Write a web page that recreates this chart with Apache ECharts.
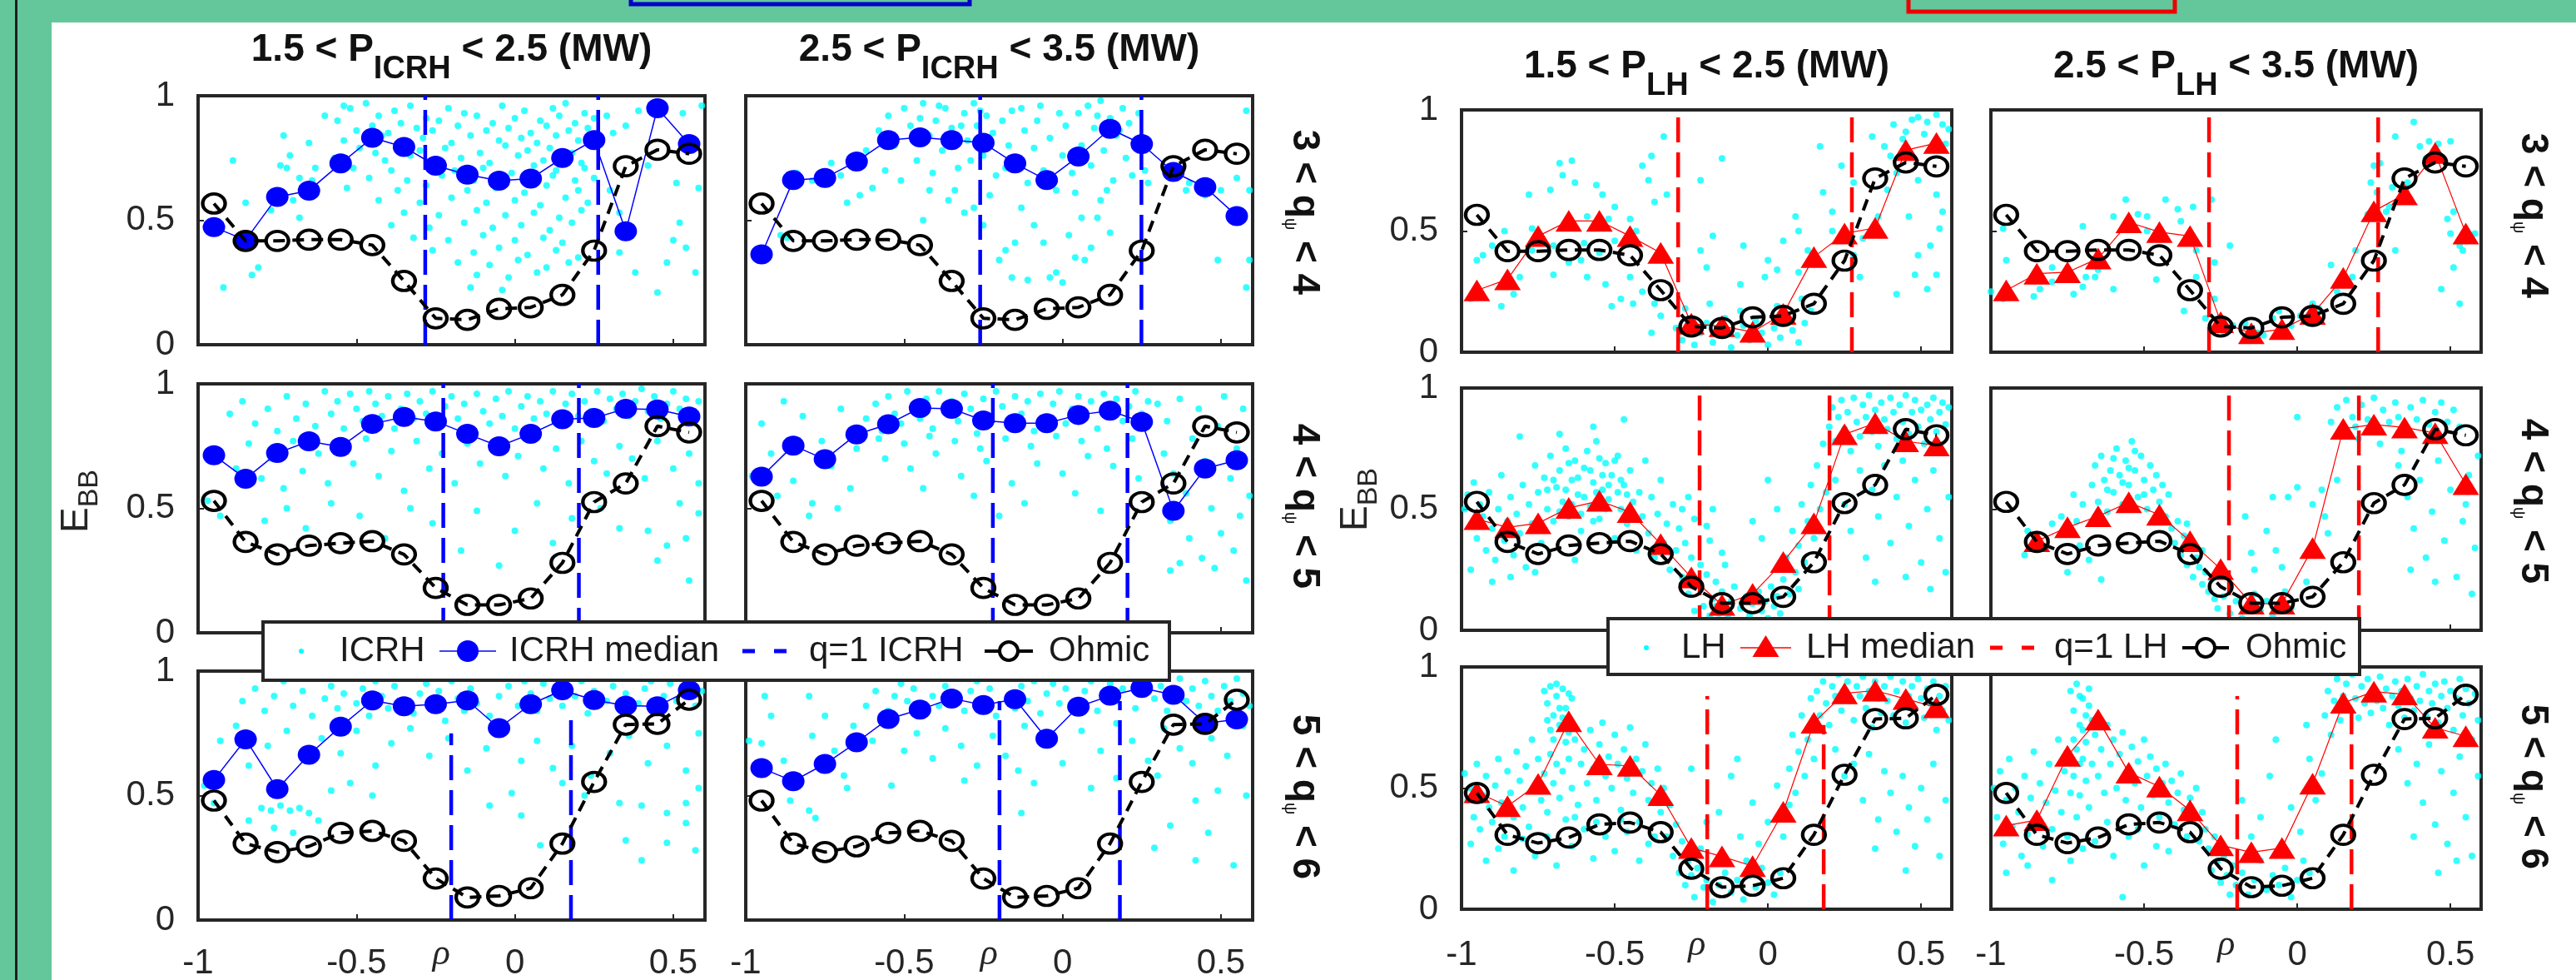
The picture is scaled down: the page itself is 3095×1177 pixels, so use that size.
<!DOCTYPE html>
<html>
<head>
<meta charset="utf-8">
<script src="https://cdn.jsdelivr.net/npm/echarts@6/dist/echarts.min.js"></script>
<style>
html,body{margin:0;padding:0;background:#63c79b;}
#chart{width:3095px;height:1177px;}
</style>
</head>
<body>
<div id="chart"></div>
<script>
// ---------------------------------------------------------------
// Radial bins (rho) shared by the medians and the Ohmic reference
// ---------------------------------------------------------------
const rhoBins = [-0.95,-0.85,-0.75,-0.65,-0.55,-0.45,-0.35,-0.25,-0.15,-0.05,0.05,0.15,0.25,0.35,0.45,0.55];
const xTicks = [-1, -0.5, 0, 0.5];
const xTickLabels = ['-1', '-0.5', '0', '0.5'];
const yTicks = [0, 0.5, 1];

// heating power bands (MW) and safety-factor bands
const powerBands = [['1.5', '2.5'], ['2.5', '3.5']];
const qBands = [['3', '4'], ['4', '5'], ['5', '6']];

// Ohmic reference profiles (same in every column of a row)
const ohmicQ34 = [0.567,0.417,0.417,0.422,0.422,0.40,0.256,0.106,0.10,0.144,0.15,0.20,0.378,0.717,0.783,0.767];
const ohmicQ45 = [0.53,0.365,0.315,0.35,0.36,0.368,0.315,0.18,0.112,0.112,0.138,0.281,0.525,0.60,0.83,0.805];
const ohmicQ56 = [0.48,0.307,0.273,0.296,0.35,0.358,0.318,0.167,0.091,0.097,0.128,0.307,0.555,0.785,0.788,0.885];

// ICRH medians
const icrhLoQ34Med = [0.472,0.42,0.594,0.619,0.728,0.831,0.794,0.719,0.683,0.659,0.667,0.75,0.822,0.456,0.95,0.806];
const icrhHiQ34Med = [0.363,0.661,0.67,0.736,0.822,0.833,0.822,0.811,0.728,0.661,0.756,0.867,0.806,0.694,0.633,0.517];
const icrhLoQ45Med = [0.713,0.619,0.722,0.769,0.747,0.839,0.867,0.849,0.799,0.749,0.799,0.858,0.863,0.90,0.897,0.869];
const icrhHiQ45Med = [0.627,0.752,0.697,0.797,0.838,0.903,0.90,0.853,0.842,0.842,0.875,0.892,0.847,0.49,0.66,0.693];
const icrhLoQ56Med = [0.563,0.726,0.526,0.664,0.777,0.882,0.859,0.867,0.882,0.771,0.867,0.923,0.884,0.861,0.859,0.923];
const icrhHiQ56Med = [0.61,0.558,0.627,0.714,0.808,0.845,0.89,0.864,0.887,0.728,0.857,0.901,0.932,0.905,0.79,0.806];

// LH medians
const lhLoQ34Med = [0.255,0.301,0.479,0.542,0.542,0.479,0.41,0.118,0.107,0.084,0.158,0.393,0.49,0.513,0.834,0.863];
const lhHiQ34Med = [0.255,0.324,0.33,0.387,0.536,0.496,0.479,0.124,0.078,0.095,0.158,0.307,0.582,0.651,0.822,0.49];
const lhLoQ45Med = [0.459,0.425,0.442,0.505,0.534,0.488,0.356,0.218,0.105,0.15,0.282,0.442,0.809,0.855,0.78,0.763];
const lhHiQ45Med = [null,0.368,0.425,0.471,0.528,0.477,0.368,0.253,0.11,0.11,0.339,0.832,0.849,0.837,0.814,0.603];
const lhLoQ56Med = [0.483,0.425,0.517,0.776,0.598,0.592,0.471,0.253,0.218,0.178,0.402,0.77,0.891,0.902,0.868,0.833];
const lhHiQ56Med = [0.345,0.368,0.633,0.783,0.564,0.506,0.408,0.264,0.235,0.253,0.518,0.852,0.898,0.887,0.749,0.714];

// q=1 radii (inboard, outboard) per q band
const icrhLoQ1 = [[-0.283,0.263],[-0.226,0.202],[-0.201,0.177]];
const icrhHiQ1 = [[-0.26,0.249],[-0.22,0.205],[-0.199,0.181]];
const lhLoQ1 = [[-0.293,0.274],[-0.223,0.201],[-0.198,0.182]];
const lhHiQ1 = [[-0.288,0.264],[-0.223,0.201],[-0.196,0.177]];
// upper end of each q=1 marker line
const icrhLoQ1Top = [[1,1],[1,1],[0.75,0.83]];
const icrhHiQ1Top = [[1,1],[1,1],[0.88,0.88]];
const lhLoQ1Top = [[1,1],[1,1],[0.88,0.76]];
const lhHiQ1Top = [[1,1],[1,1],[0.88,0.86]];

// individual ICRH shots
const icrhLoQ34Cloud = [[-0.89,0.74],[-0.92,0.23],[-0.85,0.57],[-0.83,0.28],[-0.81,0.31],[-0.73,0.84],[-0.72,0.71],[-0.65,0.81],[-0.68,0.67],[-0.71,0.76],[-0.77,0.54],[-0.74,0.72],[-0.63,0.71],[-0.7,0.58],[-0.68,0.51],[-0.64,0.66],[-0.6,0.92],[-0.54,0.96],
[-0.52,0.95],[-0.47,0.97],[-0.38,0.94],[-0.33,0.96],[-0.21,0.95],[-0.16,0.93],[-0.04,0.96],[0.03,0.94],[0.12,0.95],[0.16,0.97],[0.22,0.93],
[-0.56,0.9],[-0.43,0.92],[-0.36,0.89],[-0.28,0.91],[-0.24,0.9],[-0.12,0.92],[-0.07,0.89],[0.0,0.91],[0.08,0.9],[0.14,0.92],[0.19,0.89],[0.25,0.91],
[-0.5,0.86],[-0.45,0.88],[-0.4,0.85],[-0.31,0.87],[-0.26,0.86],[-0.18,0.88],[-0.09,0.86],[-0.02,0.87],[0.05,0.85],[0.1,0.88],[0.17,0.86],[0.23,0.87],
[-0.54,0.82],[-0.42,0.84],[-0.35,0.82],[-0.29,0.83],[-0.2,0.81],[-0.14,0.84],[-0.05,0.82],[0.02,0.83],[0.07,0.81],[0.13,0.84],[0.2,0.82],[0.26,0.83],
[-0.49,0.79],[-0.44,0.77],[-0.37,0.8],[-0.3,0.78],[-0.22,0.79],[-0.11,0.77],[-0.03,0.8],[0.04,0.78],[0.11,0.79],[0.18,0.77],[0.24,0.8],
[-0.57,0.75],[-0.41,0.74],[-0.33,0.76],[-0.25,0.74],[-0.17,0.75],[-0.08,0.73],[0.01,0.76],[0.09,0.74],[0.15,0.75],[0.21,0.73],
[-0.51,0.71],[-0.39,0.7],[-0.27,0.72],[-0.19,0.7],[-0.1,0.71],[-0.01,0.69],[0.06,0.72],[0.13,0.7],[0.22,0.71],
[-0.46,0.67],[-0.34,0.66],[-0.23,0.68],[-0.13,0.66],[-0.04,0.67],[0.05,0.65],[0.12,0.68],[0.19,0.66],[0.25,0.67],
[-0.53,0.63],[-0.37,0.62],[-0.28,0.64],[-0.15,0.62],[-0.06,0.63],[0.03,0.61],[0.1,0.64],[0.2,0.62],
[-0.43,0.58],[-0.3,0.57],[-0.2,0.59],[-0.09,0.57],[0.0,0.58],[0.08,0.56],[0.16,0.59],[0.23,0.57],
[-0.35,0.53],[-0.24,0.52],[-0.12,0.54],[-0.03,0.52],[0.06,0.53],[0.14,0.51],[0.21,0.54],
[-0.39,0.48],[-0.27,0.47],[-0.16,0.49],[-0.07,0.47],[0.02,0.48],[0.11,0.46],[0.18,0.49],
[-0.32,0.43],[-0.21,0.42],[-0.1,0.44],[0.0,0.42],[0.09,0.43],[0.15,0.41],
[-0.26,0.38],[-0.13,0.37],[-0.05,0.39],[0.04,0.36],[0.13,0.38],[0.2,0.35],
[-0.18,0.33],[-0.08,0.32],[0.01,0.34],[0.1,0.31],[0.17,0.33],[-0.12,0.28],[-0.02,0.27],[0.07,0.29],[-0.14,0.23],[-0.04,0.22],
[0.39,0.94],[0.45,0.21],[0.48,0.33],[0.5,0.42],[0.51,0.65],[0.54,0.39],[0.57,0.29],[0.58,0.63],[0.53,0.93],[0.56,0.82],[0.33,0.37],[0.38,0.29],[0.33,0.53],[0.3,0.62],[0.52,0.49],[0.35,0.88],[0.42,0.72],[0.59,0.96],[0.29,0.92],[0.31,0.85]];

const icrhHiQ34Cloud = [[-0.87,0.43],[-0.89,0.44],[-0.84,0.69],[-0.79,0.66],[-0.68,0.57],[-0.64,0.6],[-0.6,0.63],[-0.73,0.73],[-0.66,0.72],[-0.62,0.78],[-0.7,0.68],
[0.58,0.94],[0.49,0.34],[0.59,0.34],[0.58,0.23],[0.5,0.62],[0.39,0.62],[0.4,0.65],[0.59,0.62],[0.27,0.65],[0.45,0.6],[0.55,0.67],
[-0.44,0.5],[-0.31,0.53],[-0.2,0.34],[-0.18,0.38],[-0.15,0.41],[-0.11,0.26],[-0.06,0.41],[-0.04,0.27],[-0.02,0.29],[0.04,0.35],[0.06,0.51],[0.11,0.51],[0.12,0.58],[0.07,0.34],[0.0,0.25],[-0.16,0.27],[-0.25,0.48],[-0.28,0.55],[-0.09,0.48],[0.15,0.45],[-0.36,0.58],[-0.42,0.62],[0.02,0.44],[-0.13,0.55],[0.09,0.39],
[-0.58,0.86],[-0.55,0.92],[-0.53,0.8],[-0.5,0.95],[-0.48,0.88],[-0.46,0.74],[-0.44,0.97],[-0.42,0.84],[-0.4,0.9],[-0.38,0.78],[-0.37,0.95],[-0.35,0.87],[-0.33,0.71],[-0.31,0.93],[-0.3,0.82],[-0.28,0.97],[-0.27,0.88],[-0.25,0.76],[-0.24,0.92],[-0.22,0.85],[-0.21,0.68],[-0.19,0.9],[-0.17,0.8],[-0.16,0.94],[-0.14,0.73],[-0.12,0.86],[-0.11,0.65],[-0.09,0.79],[-0.08,0.9],[-0.06,0.7],[-0.04,0.83],[-0.02,0.62],[0.0,0.76],[0.01,0.88],[0.03,0.69],[0.05,0.93],[0.06,0.8],[0.08,0.96],[0.09,0.72],[0.1,0.87],[0.12,0.98],[0.13,0.78],[0.15,0.91],[0.16,0.66],[0.17,0.84],[0.19,0.95],[0.2,0.75],[0.21,0.89],[0.23,0.81],[0.24,0.93],[0.26,0.7],
[-0.56,0.7],[-0.51,0.66],[-0.47,0.82],[-0.41,0.69],[-0.34,0.62],[-0.29,0.74],[-0.23,0.6],[-0.18,0.71],[-0.13,0.95],[-0.07,0.96],[-0.01,0.93],[0.04,0.61],[0.14,0.62],[0.22,0.68],[-0.45,0.91],[-0.39,0.96],[-0.32,0.88],[-0.26,0.94],[0.11,0.92],[0.18,0.86]];

const icrhLoQ45Cloud = [[-0.9,0.88],[-0.86,0.93],[-0.82,0.84],[-0.78,0.9],[-0.75,0.81],[-0.72,0.95],[-0.69,0.86],[-0.66,0.92],[-0.63,0.83],[-0.6,0.97],[-0.58,0.88],[-0.56,0.93],[-0.54,0.82],[-0.52,0.96],[-0.5,0.9],[-0.48,0.85],[-0.46,0.97],[-0.44,0.92],[-0.42,0.87],[-0.4,0.95],[-0.38,0.82],[-0.36,0.9],[-0.34,0.96],[-0.32,0.86],[-0.3,0.93],[-0.28,0.88],[-0.26,0.97],[-0.24,0.83],[-0.22,0.91],[-0.2,0.95],[-0.18,0.86],[-0.16,0.92],[-0.14,0.81],[-0.12,0.96],[-0.1,0.89],[-0.08,0.84],[-0.06,0.94],[-0.04,0.87],[-0.02,0.97],[0.0,0.82],[0.02,0.91],[0.04,0.95],[0.06,0.86],[0.08,0.93],[0.1,0.88],[0.12,0.97],[0.14,0.84],[0.16,0.92],[0.18,0.96],[0.2,0.87],[0.22,0.93],[0.24,0.89],[0.26,0.97],[0.28,0.85],[0.3,0.94],[0.32,0.9],[0.34,0.96],[0.36,0.87],[0.38,0.93],[0.4,0.98],[0.42,0.89],[0.44,0.95],[0.46,0.86],[0.48,0.92],[0.5,0.97],[0.52,0.9],[0.54,0.94],[0.56,0.87],[0.58,0.93],
[-0.95,0.72],[-0.88,0.66],[-0.84,0.76],[-0.8,0.62],[-0.77,0.7],[-0.73,0.58],[-0.7,0.77],[-0.67,0.65],[-0.62,0.72],[-0.59,0.6],[-0.55,0.75],[-0.51,0.68],[-0.47,0.78],[-0.43,0.63],[-0.39,0.73],[-0.35,0.57],[-0.31,0.77],[-0.27,0.66],[-0.23,0.72],[-0.19,0.6],[-0.15,0.76],[-0.11,0.68],[-0.07,0.74],[-0.03,0.63],[0.01,0.71],[0.05,0.78],[0.09,0.66],[0.13,0.74],[0.17,0.6],[0.21,0.77],[0.25,0.69],[0.29,0.64],[0.33,0.75],[0.37,0.7],[0.41,0.62],[0.45,0.77],[0.5,0.66],[0.55,0.72],[0.58,0.6],
[-0.97,0.53],[-0.93,0.47],[-0.79,0.45],[-0.72,0.5],[-0.66,0.42],[-0.58,0.52],[-0.49,0.47],[-0.41,0.38],[-0.33,0.5],[-0.26,0.44],[-0.17,0.33],[-0.12,0.49],[-0.05,0.27],[0.0,0.41],[0.07,0.52],[0.12,0.36],[0.18,0.46],[0.27,0.5],[0.33,0.42],[0.42,0.41],[0.45,0.29],[0.48,0.35],[0.54,0.38],[0.55,0.21],[0.58,0.48],[0.52,0.52]];

const icrhHiQ45Cloud = [[-0.62,0.86],[-0.59,0.92],[-0.57,0.81],[-0.55,0.95],[-0.53,0.88],[-0.51,0.84],[-0.49,0.97],[-0.47,0.9],[-0.45,0.86],[-0.43,0.94],[-0.41,0.82],[-0.39,0.97],[-0.37,0.89],[-0.35,0.93],[-0.33,0.85],[-0.31,0.96],[-0.29,0.9],[-0.27,0.8],[-0.25,0.94],[-0.23,0.87],[-0.21,0.97],[-0.19,0.91],[-0.17,0.83],[-0.15,0.95],[-0.13,0.88],[-0.11,0.93],[-0.09,0.81],[-0.07,0.96],[-0.05,0.86],[-0.03,0.92],[-0.01,0.97],[0.01,0.84],[0.03,0.9],[0.05,0.95],[0.07,0.87],[0.09,0.93],[0.11,0.82],[0.13,0.96],[0.15,0.89],[0.17,0.94],[0.19,0.85],[0.21,0.91],[0.23,0.97],[0.25,0.88],[0.27,0.93],
[-0.58,0.78],[-0.5,0.76],[-0.42,0.79],[-0.34,0.77],[-0.26,0.74],[-0.18,0.78],[-0.1,0.75],[-0.02,0.79],[0.06,0.77],[0.14,0.74],[0.22,0.78],
[-0.56,0.7],[-0.48,0.66],[-0.4,0.72],[-0.32,0.63],[-0.24,0.69],[-0.16,0.6],[-0.08,0.68],[0.0,0.64],[0.08,0.71],[0.16,0.67],[0.24,0.62],[-0.44,0.58],[-0.28,0.55],[-0.12,0.52],[0.04,0.56],[0.12,0.49],[-0.2,0.47],
[-0.95,0.84],[-0.92,0.72],[-0.88,0.93],[-0.85,0.61],[-0.82,0.87],[-0.79,0.52],[-0.76,0.77],[-0.73,0.67],[-0.7,0.9],[-0.67,0.58],[-0.65,0.74],[-0.9,0.55],[-0.8,0.47],[-0.71,0.5],[-0.98,0.63],
[0.3,0.92],[0.33,0.85],[0.35,0.64],[0.37,0.94],[0.39,0.56],[0.41,0.78],[0.43,0.9],[0.45,0.69],[0.47,0.5],[0.49,0.83],[0.51,0.95],[0.53,0.62],[0.55,0.74],[0.57,0.9],[0.59,0.55],[0.34,0.45],[0.44,0.3],[0.5,0.4],[0.56,0.47],[0.58,0.21],[0.4,0.38],[0.32,0.72],[0.48,0.26],[0.54,0.33],[0.34,0.25],[0.37,0.28]];

const icrhLoQ56Cloud = [[-0.86,0.88],[-0.82,0.93],[-0.79,0.84],[-0.76,0.9],[-0.73,0.96],[-0.7,0.86],[-0.67,0.92],[-0.64,0.82],[-0.62,0.97],[-0.6,0.89],[-0.58,0.94],[-0.56,0.85],[-0.54,0.91],[-0.52,0.97],[-0.5,0.87],[-0.48,0.93],[-0.46,0.82],[-0.44,0.96],[-0.42,0.9],[-0.4,0.85],[-0.38,0.94],[-0.36,0.88],[-0.34,0.97],[-0.32,0.83],[-0.3,0.91],[-0.28,0.95],[-0.26,0.86],[-0.24,0.92],[-0.22,0.8],[-0.2,0.96],[-0.18,0.89],[-0.16,0.84],[-0.14,0.93],[-0.12,0.87],[-0.1,0.97],[-0.08,0.82],[-0.05,0.9],[-0.02,0.94],[0.01,0.86],[0.03,0.96],[0.05,0.91],[0.07,0.84],[0.09,0.95],[0.11,0.89],[0.13,0.97],[0.15,0.86],[0.17,0.93],[0.19,0.9],[0.21,0.96],[0.23,0.83],[0.25,0.92],[0.27,0.97],[0.29,0.88],[0.31,0.94],[0.33,0.85],[0.35,0.91],[0.37,0.97],[0.39,0.87],[0.41,0.93],[0.43,0.96],[0.45,0.84],[0.47,0.9],[0.49,0.95],[0.51,0.88],[0.53,0.93],[0.55,0.97],[0.57,0.86],[0.59,0.92],
[-0.93,0.72],[-0.88,0.78],[-0.84,0.62],[-0.78,0.7],[-0.72,0.76],[-0.66,0.64],[-0.61,0.73],[-0.55,0.67],[-0.5,0.76],[-0.44,0.62],[-0.39,0.71],[-0.33,0.77],[-0.27,0.66],[-0.21,0.73],[-0.15,0.6],[-0.09,0.69],[-0.04,0.76],[0.02,0.64],[0.07,0.72],[0.12,0.61],[0.18,0.7],[0.24,0.58],[0.3,0.67],[0.36,0.74],[0.42,0.63],[0.48,0.7],[0.54,0.6],[0.58,0.75],
[-0.98,0.54],[-0.95,0.47],[-0.8,0.45],[-0.77,0.44],[-0.74,0.46],[-0.71,0.44],[-0.68,0.45],[-0.65,0.43],[-0.76,0.37],[-0.7,0.35],[-0.62,0.4],[-0.84,0.4],[-0.58,0.52],[-0.52,0.55],[-0.45,0.5],[-0.08,0.46],[-0.01,0.51],[0.02,0.42],[0.08,0.3],[0.33,0.47],[0.4,0.46],[0.48,0.43],[0.54,0.47],[0.54,0.39],[0.35,0.32],[0.48,0.31],[0.57,0.28],[0.4,0.24],[0.15,0.55],[0.22,0.5],[0.58,0.53]];

const icrhHiQ56Cloud = [[-0.62,0.86],[-0.59,0.92],[-0.57,0.97],[-0.55,0.84],[-0.53,0.9],[-0.51,0.95],[-0.49,0.88],[-0.47,0.93],[-0.45,0.83],[-0.43,0.97],[-0.41,0.9],[-0.39,0.86],[-0.37,0.94],[-0.35,0.89],[-0.33,0.97],[-0.31,0.84],[-0.29,0.92],[-0.27,0.96],[-0.25,0.87],[-0.23,0.93],[-0.21,0.82],[-0.19,0.97],[-0.17,0.9],[-0.15,0.85],[-0.13,0.94],[-0.11,0.88],[-0.09,0.96],[-0.07,0.83],[-0.05,0.91],[-0.03,0.95],[-0.01,0.87],[0.01,0.93],[0.03,0.98],[0.05,0.86],[0.07,0.92],[0.09,0.96],[0.11,0.84],[0.13,0.9],[0.15,0.95],[0.17,0.88],[0.19,0.93],[0.21,0.97],[0.23,0.85],[0.25,0.91],[0.27,0.96],[0.29,0.89],[0.31,0.94],[0.33,0.84],[0.35,0.92],[0.37,0.97],[0.39,0.88],[0.41,0.93],[0.43,0.86],[0.45,0.96],[0.47,0.9],[0.49,0.84],[0.51,0.94],[0.53,0.88],[0.55,0.97],[0.57,0.91],[0.59,0.86],
[-0.66,0.78],[-0.6,0.72],[-0.55,0.79],[-0.5,0.68],[-0.46,0.75],[-0.41,0.65],[-0.37,0.77],[-0.32,0.7],[-0.27,0.62],[-0.22,0.74],[-0.18,0.66],[-0.12,0.78],[-0.06,0.71],[0.0,0.63],[0.06,0.76],[0.12,0.68],[0.17,0.79],[0.22,0.72],[0.27,0.64],[0.32,0.77],[0.37,0.69],[0.42,0.79],[0.47,0.73],[0.52,0.66],[0.57,0.78],
[-0.94,0.9],[-0.95,0.71],[-0.99,0.72],[-0.88,0.64],[-0.8,0.9],[-0.79,0.74],[-0.8,0.44],[-0.78,0.41],[-0.75,0.82],[-0.86,0.48],[-0.69,0.58],[-0.68,0.53],[-0.54,0.54],[-0.31,0.56],[-0.13,0.43],[-0.09,0.55],[-0.14,0.6],[0.09,0.53],[0.17,0.57],[0.29,0.29],[0.34,0.38],[0.42,0.24],[0.46,0.35],[0.54,0.22],[0.42,0.48],[0.49,0.52],[0.58,0.5],[0.41,0.63],[0.3,0.58],[-0.92,0.82],[-0.72,0.68]];

// individual LH shots
const lhLoQ34Cloud = [[-0.97,0.22],[-0.95,0.38],[-0.87,0.19],[-0.86,0.5],[-0.83,0.24],[-0.78,0.65],[-0.77,0.51],[-0.81,0.31],[-0.71,0.67],[-0.7,0.32],[-0.68,0.78],[-0.67,0.73],[-0.64,0.79],[-0.63,0.7],[-0.61,0.38],[-0.56,0.69],[-0.59,0.31],[-0.54,0.65],[-0.52,0.55],[-0.5,0.6],[-0.59,0.56],[-0.45,0.55],[-0.43,0.5],[-0.41,0.77],[-0.39,0.71],[-0.38,0.81],[-0.37,0.62],[-0.34,0.89],[-0.33,0.65],[-0.45,0.31],[-0.41,0.25],[-0.48,0.22],[-0.51,0.19],[-0.53,0.28],[-0.38,0.08],[-0.44,0.2],
[-0.77,0.42],[-0.7,0.44],[-0.65,0.37],[-0.74,0.47],[-0.6,0.45],[-0.55,0.41],[-0.5,0.46],[-0.9,0.44],[-0.93,0.4],
[-0.22,0.71],[-0.15,0.8],[-0.22,0.42],[-0.2,0.35],[-0.18,0.48],[-0.08,0.44],[0.0,0.38],[0.05,0.46],[0.09,0.56],[0.1,0.5],[-0.09,0.28],[-0.01,0.31],[0.03,0.34],[0.1,0.33],[0.13,0.42],[0.17,0.85],[0.18,0.66],[0.21,0.58],[0.21,0.5],
[0.24,0.77],[0.28,0.7],[0.34,0.89],[0.38,0.85],[0.41,0.94],[0.45,0.91],[0.49,0.97],[0.52,0.95],[0.55,0.98],[0.57,0.94],[0.58,0.86],[0.46,0.81],[0.42,0.74],[0.39,0.67],[0.49,0.71],[0.55,0.65],[0.57,0.58],[0.56,0.51],[0.53,0.44],[0.49,0.4],[0.55,0.32],[0.52,0.26],[0.42,0.24],[0.48,0.32],[0.46,0.56],[0.36,0.56],[0.31,0.47],[0.28,0.4],[0.3,0.31],[0.44,0.88],[0.51,0.9],[0.59,0.92],[0.47,0.96],[0.53,0.84],[0.4,0.81],
[-0.3,0.1],[-0.28,0.05],[-0.26,0.13],[-0.24,0.03],[-0.22,0.08],[-0.2,0.12],[-0.18,0.04],[-0.16,0.09],[-0.14,0.14],[-0.12,0.02],[-0.1,0.07],[-0.08,0.11],[-0.06,0.05],[-0.04,0.13],[-0.02,0.08],[0.0,0.03],[0.02,0.1],[0.04,0.06],[0.06,0.14],[0.08,0.09],[0.1,0.04],[0.12,0.12],[-0.35,0.15],[-0.27,0.18],[-0.19,0.2],[-0.09,0.17],[0.03,0.19],[0.11,0.22],[0.14,0.17],[-0.37,0.2]];

const lhHiQ34Cloud = [[-1.0,0.25],[-0.96,0.51],[-0.95,0.38],[-0.96,0.22],[-0.86,0.23],[-0.84,0.26],[-0.8,0.35],[-0.8,0.29],[-0.73,0.24],[-0.7,0.52],[-0.7,0.27],[-0.69,0.31],[-0.66,0.31],[-0.65,0.34],[-0.6,0.26],[-0.6,0.56],[-0.56,0.63],[-0.55,0.54],[-0.52,0.57],[-0.49,0.56],[-0.49,0.5],[-0.46,0.3],[-0.43,0.63],[-0.39,0.59],[-0.38,0.54],[-0.34,0.6],[-0.33,0.42],[-0.33,0.31],[-0.37,0.17],[-0.27,0.22],[-0.27,0.37],[-0.28,0.63],[-0.22,0.44],[-0.26,0.09],[-0.24,0.08],[-0.21,0.11],[-0.13,0.08],[-0.11,0.07],[-0.08,0.14],[-0.06,0.17],[-0.02,0.11],[0.01,0.15],[0.05,0.2],[0.07,0.18],[0.11,0.36],[0.13,0.25],[0.18,0.31],[0.19,0.42],[0.23,0.57],[0.24,0.7],[0.25,0.77],[0.26,0.66],[0.27,0.78],[0.31,0.68],[0.32,0.89],[0.32,0.42],[0.38,0.95],[0.4,0.85],[0.43,0.87],[0.46,0.86],[0.5,0.87],[0.51,0.58],[0.47,0.26],[0.53,0.2],[0.51,0.35],[0.53,0.44],[0.54,0.42],[0.5,0.49],[0.58,0.49],[0.49,0.55],[0.29,0.58],[0.3,0.6],[-0.17,0.12],[-0.3,0.14],[0.42,0.8],[0.36,0.7]];

const lhLoQ45Cloud = [[-0.99,0.5],[-0.98,0.56],[-0.97,0.43],[-0.96,0.61],[-0.95,0.38],[-0.94,0.52],[-0.93,0.47],[-0.92,0.33],[-0.91,0.57],[-0.9,0.42],[-0.89,0.29],[-0.88,0.5],[-0.87,0.64],[-0.86,0.37],[-0.85,0.45],[-0.84,0.55],[-0.83,0.31],[-0.82,0.48],[-0.81,0.4],[-0.8,0.6],[-0.79,0.26],[-0.78,0.52],[-0.77,0.44],[-0.76,0.68],[-0.75,0.57],[-0.74,0.36],[-0.73,0.63],[-0.72,0.5],[-0.71,0.72],[-0.7,0.45],[-0.69,0.59],[-0.68,0.66],[-0.67,0.53],[-0.66,0.75],[-0.65,0.47],[-0.64,0.62],[-0.63,0.7],[-0.62,0.56],[-0.61,0.41],[-0.6,0.67],[-0.59,0.74],[-0.58,0.51],[-0.57,0.61],[-0.56,0.78],[-0.55,0.46],[-0.54,0.58],[-0.53,0.69],[-0.52,0.54],[-0.51,0.64],[-0.5,0.38],[-0.49,0.72],[-0.48,0.5],[-0.47,0.6],[-0.46,0.44],[-0.45,0.66],[-0.44,0.53],[-0.43,0.33],[-0.42,0.57],[-0.41,0.47],[-0.4,0.7],[-0.39,0.4],[-0.38,0.55],[-0.37,0.3],[-0.36,0.48],[-0.35,0.62],[-0.34,0.36],[-0.33,0.44],[-0.32,0.25],[-0.31,0.52],[-0.3,0.33],
[-0.68,0.49],[-0.66,0.58],[-0.64,0.52],[-0.62,0.63],[-0.6,0.55],[-0.58,0.66],[-0.56,0.57],[-0.54,0.64],[-0.52,0.6],[-0.5,0.7],[-0.48,0.62],[-0.46,0.56],[-0.7,0.62],[-0.72,0.58],[-0.65,0.69],[-0.55,0.71],[-0.53,0.5],[-0.61,0.48],[-0.57,0.45],[-0.49,0.57],
[-0.97,0.25],[-0.9,0.2],[-0.84,0.22],[-0.81,0.8],[-0.76,0.24],[-0.68,0.81],[-0.57,0.84],[-0.47,0.87],[-0.63,0.29],
[-0.29,0.42],[-0.28,0.22],[-0.27,0.36],[-0.26,0.15],[-0.25,0.3],[-0.24,0.46],[-0.23,0.19],[-0.22,0.27],[-0.21,0.1],[-0.2,0.23],[-0.19,0.37],[-0.18,0.13],[-0.17,0.2],[-0.16,0.07],[-0.15,0.16],[-0.14,0.27],[-0.13,0.05],[-0.12,0.12],[-0.11,0.18],[-0.1,0.03],[-0.28,0.5],[-0.26,0.55],[-0.2,0.43],[-0.18,0.5],[-0.15,0.32],
[-0.09,0.09],[-0.08,0.02],[-0.07,0.14],[-0.06,0.06],[-0.05,0.11],[-0.04,0.03],[-0.03,0.16],[-0.02,0.08],[-0.01,0.12],[0.0,0.05],[0.01,0.18],[0.02,0.1],[0.03,0.14],[0.04,0.07],[0.05,0.21],[-0.19,0.06],[-0.17,0.1],[-0.14,0.02],[-0.24,0.08],[-0.22,0.04],
[0.06,0.3],[0.07,0.15],[0.08,0.41],[0.09,0.24],[0.1,0.35],[0.11,0.52],[0.12,0.28],[0.13,0.45],[0.14,0.6],[0.15,0.38],[0.16,0.68],[0.17,0.5],[0.18,0.77],[0.19,0.57],[0.2,0.84],[-0.02,0.38],[0.03,0.5],[0.0,0.62],[-0.05,0.45],[0.1,0.17],
[0.21,0.92],[0.22,0.78],[0.23,0.88],[0.24,0.95],[0.25,0.83],[0.26,0.9],[0.27,0.74],[0.28,0.96],[0.29,0.86],[0.3,0.8],[0.31,0.93],[0.32,0.88],[0.33,0.97],[0.34,0.82],[0.35,0.91],[0.36,0.76],[0.37,0.94],[0.38,0.87],[0.39,0.83],[0.4,0.96],[0.41,0.9],[0.42,0.79],[0.43,0.93],[0.44,0.86],[0.45,0.97],[0.46,0.81],[0.47,0.9],[0.48,0.95],[0.49,0.84],[0.5,0.91],[0.51,0.77],[0.52,0.93],[0.53,0.87],[0.54,0.96],[0.55,0.82],[0.56,0.9],[0.57,0.94],[0.58,0.85],[0.59,0.92],
[0.22,0.62],[0.25,0.52],[0.27,0.41],[0.3,0.66],[0.32,0.3],[0.34,0.58],[0.36,0.47],[0.38,0.68],[0.4,0.36],[0.42,0.55],[0.44,0.7],[0.46,0.43],[0.48,0.62],[0.5,0.28],[0.52,0.5],[0.54,0.66],[0.56,0.38],[0.58,0.24],[0.59,0.55],[0.53,0.17],[0.45,0.22],[0.35,0.2]];

const lhHiQ45Cloud = [[-0.88,0.41],[-0.89,0.31],[-0.77,0.47],[-0.75,0.24],[-0.64,0.21],[-0.73,0.56],[-0.84,0.37],[-0.8,0.44],[-0.71,0.35],[-0.68,0.29],
[-0.67,0.6],[-0.66,0.68],[-0.65,0.53],[-0.64,0.72],[-0.63,0.62],[-0.62,0.49],[-0.61,0.66],[-0.6,0.57],[-0.59,0.75],[-0.58,0.64],[-0.57,0.52],[-0.56,0.7],[-0.55,0.6],[-0.54,0.78],[-0.53,0.66],[-0.52,0.55],[-0.51,0.72],[-0.5,0.62],[-0.49,0.5],[-0.48,0.68],[-0.47,0.58],[-0.46,0.64],[-0.45,0.53],[-0.44,0.6],[-0.43,0.47],[-0.42,0.56],[-0.6,0.71],[-0.55,0.67],[-0.5,0.56],[-0.57,0.61],[-0.62,0.58],[-0.53,0.74],[-0.7,0.52],[-0.72,0.45],
[-0.41,0.42],[-0.4,0.36],[-0.39,0.45],[-0.38,0.31],[-0.37,0.39],[-0.36,0.27],[-0.35,0.35],[-0.34,0.22],[-0.33,0.3],[-0.32,0.26],[-0.31,0.19],[-0.3,0.24],[-0.29,0.16],[-0.28,0.21],[-0.27,0.13],[-0.36,0.44],[-0.31,0.33],
[-0.26,0.09],[-0.24,0.14],[-0.22,0.07],[-0.2,0.12],[-0.18,0.05],[-0.16,0.1],[-0.14,0.15],[-0.12,0.08],[-0.1,0.12],[-0.08,0.06],[-0.06,0.1],[-0.04,0.16],[-0.02,0.09],
[-0.17,0.47],[-0.15,0.32],[-0.14,0.25],[-0.1,0.41],[-0.07,0.33],[-0.05,0.26],[0.0,0.88],[0.0,0.59],[-0.03,0.55],[0.05,0.52],[0.09,0.47],[0.1,0.4],[0.03,0.2],[-0.08,0.55],
[0.11,0.86],[0.13,0.92],[0.14,0.83],[0.16,0.95],[0.18,0.88],[0.19,0.84],[0.21,0.93],[0.23,0.87],[0.25,0.96],[0.26,0.84],[0.28,0.91],[0.3,0.86],[0.32,0.94],[0.33,0.88],[0.35,0.83],[0.37,0.92],[0.39,0.87],[0.41,0.95],[0.43,0.85],[0.45,0.9],[0.47,0.94],[0.49,0.86],[0.51,0.91],[0.53,0.84],[0.2,0.79],[0.27,0.77],[0.34,0.74],
[0.33,0.68],[0.36,0.55],[0.38,0.42],[0.4,0.62],[0.42,0.3],[0.44,0.49],[0.46,0.7],[0.48,0.37],[0.5,0.58],[0.52,0.22],[0.54,0.45],[0.56,0.64],[0.57,0.15],[0.58,0.34],[0.37,0.25],[0.45,0.2],[0.55,0.52],[0.59,0.72],[0.13,0.62],[0.08,0.58]];

const lhLoQ56Cloud = [[-0.73,0.9],[-0.72,0.85],[-0.71,0.92],[-0.7,0.8],[-0.69,0.88],[-0.68,0.76],[-0.67,0.91],[-0.66,0.83],[-0.65,0.73],[-0.64,0.87],[-0.72,0.78],[-0.7,0.7],[-0.68,0.83],[-0.66,0.69],[-0.65,0.89],[-0.71,0.74],[-0.69,0.93],[-0.67,0.79],
[-0.99,0.56],[-0.98,0.45],[-0.97,0.5],[-0.96,0.38],[-0.95,0.6],[-0.94,0.33],[-0.93,0.47],[-0.92,0.55],[-0.91,0.42],[-0.9,0.36],[-0.89,0.51],[-0.88,0.62],[-0.87,0.44],[-0.86,0.3],[-0.85,0.57],[-0.84,0.48],[-0.83,0.38],[-0.82,0.65],[-0.81,0.53],[-0.8,0.42],[-0.79,0.59],[-0.78,0.34],[-0.77,0.7],[-0.76,0.5],[-0.75,0.62],[-0.74,0.45],[-0.73,0.56],[-0.72,0.4],[-0.71,0.64],[-0.7,0.52],[-0.69,0.6],[-0.68,0.46],[-0.67,0.57],[-0.66,0.37],[-0.65,0.62],[-0.64,0.5],[-0.63,0.7],[-0.62,0.43],[-0.61,0.6],[-0.6,0.66],[-0.59,0.52],[-0.58,0.74],[-0.57,0.58],[-0.56,0.45],[-0.55,0.68],[-0.54,0.77],[-0.53,0.55],[-0.52,0.63],[-0.51,0.5],[-0.5,0.72],[-0.49,0.6],[-0.48,0.41],[-0.47,0.66],[-0.46,0.54],[-0.45,0.75],[-0.44,0.48],[-0.43,0.62],[-0.42,0.36],[-0.41,0.57],[-0.4,0.68],[-0.39,0.45],[-0.38,0.52],[-0.37,0.3],[-0.36,0.58],[-0.35,0.4],
[-0.97,0.27],[-0.92,0.2],[-0.88,0.25],[-0.83,0.16],[-0.8,0.29],[-0.76,0.22],[-0.72,0.3],[-0.69,0.18],[-0.64,0.26],[-0.6,0.33],[-0.57,0.21],[-0.53,0.3],[-0.5,0.24],[-0.46,0.32],[-0.42,0.2],[-0.39,0.27],[-0.56,0.36],[-0.48,0.37],[-0.63,0.38],
[-0.34,0.5],[-0.33,0.3],[-0.32,0.43],[-0.31,0.22],[-0.3,0.35],[-0.29,0.15],[-0.28,0.28],[-0.27,0.1],[-0.26,0.2],[-0.25,0.14],[-0.24,0.05],[-0.23,0.17],[-0.22,0.25],[-0.21,0.09],
[-0.2,0.12],[-0.18,0.03],[-0.16,0.1],[-0.14,0.15],[-0.12,0.07],[-0.1,0.12],[-0.08,0.04],[-0.06,0.14],[-0.04,0.09],[-0.02,0.17],[0.0,0.11],[0.02,0.06],[0.04,0.15],[-0.15,0.22],[-0.07,0.2],
[-0.2,0.36],[-0.16,0.4],[-0.12,0.55],[-0.09,0.3],[-0.05,0.44],[-0.03,0.27],[0.0,0.36],[0.03,0.51],[0.05,0.3],[0.07,0.43],[-0.1,0.62],[-0.25,0.58],
[0.07,0.58],[0.08,0.72],[0.09,0.48],[0.1,0.65],[0.11,0.8],[0.12,0.55],[0.13,0.7],[0.14,0.87],[0.15,0.62],
[0.16,0.9],[0.17,0.8],[0.18,0.94],[0.19,0.85],[0.2,0.76],[0.21,0.92],[0.22,0.88],[0.23,0.97],[0.24,0.82],[0.25,0.9],[0.26,0.94],[0.27,0.86],[0.28,0.78],[0.29,0.92],[0.3,0.88],[0.31,0.96],[0.32,0.83],[0.33,0.9],[0.34,0.75],[0.35,0.94],[0.36,0.87],[0.37,0.81],[0.38,0.92],[0.39,0.86],[0.4,0.96],[0.41,0.8],[0.42,0.9],[0.43,0.84],[0.44,0.94],[0.45,0.77],[0.46,0.88],[0.47,0.92],[0.48,0.83],[0.49,0.95],[0.5,0.87],[0.51,0.79],[0.52,0.91],[0.53,0.85],[0.54,0.94],[0.55,0.74],[0.56,0.88],[0.57,0.82],[0.58,0.92],[0.59,0.78],
[0.22,0.66],[0.25,0.55],[0.28,0.6],[0.31,0.45],[0.33,0.64],[0.36,0.37],[0.38,0.57],[0.4,0.48],[0.42,0.32],[0.44,0.55],[0.46,0.42],[0.48,0.26],[0.5,0.5],[0.52,0.37],[0.54,0.6],[0.56,0.22],[0.58,0.45],[0.45,0.16],[0.35,0.25]];

const lhHiQ56Cloud = [[-0.74,0.9],[-0.73,0.82],[-0.72,0.93],[-0.71,0.76],[-0.7,0.87],[-0.69,0.69],[-0.68,0.84],[-0.67,0.78],[-0.73,0.7],[-0.71,0.88],[-0.7,0.62],[-0.69,0.8],[-0.72,0.66],[-0.68,0.91],[-0.7,0.74],[-0.71,0.6],
[-0.99,0.5],[-0.98,0.38],[-0.97,0.57],[-0.96,0.27],[-0.95,0.45],[-0.94,0.62],[-0.93,0.34],[-0.92,0.5],[-0.91,0.4],[-0.9,0.22],[-0.89,0.55],[-0.88,0.31],[-0.87,0.46],[-0.86,0.65],[-0.85,0.37],[-0.84,0.52],[-0.83,0.26],[-0.82,0.44],[-0.81,0.6],[-0.8,0.33],[-0.79,0.49],[-0.78,0.7],[-0.77,0.4],[-0.76,0.57],[-0.75,0.3],[-0.74,0.48],[-0.73,0.55],[-0.72,0.38],[-0.71,0.47],[-0.7,0.25],[-0.69,0.53],[-0.68,0.42],[-0.67,0.6],
[-0.66,0.72],[-0.65,0.55],[-0.64,0.66],[-0.63,0.48],[-0.62,0.76],[-0.61,0.6],[-0.6,0.7],[-0.59,0.5],[-0.58,0.64],[-0.57,0.73],[-0.56,0.45],[-0.55,0.58],[-0.54,0.67],[-0.53,0.52],[-0.52,0.61],[-0.51,0.42],[-0.5,0.7],[-0.49,0.55],[-0.48,0.63],[-0.47,0.47],[-0.46,0.58],[-0.45,0.38],[-0.44,0.52],[-0.43,0.6],[-0.42,0.44],[-0.41,0.53],[-0.4,0.35],[-0.39,0.48],[-0.38,0.56],[-0.37,0.41],[-0.36,0.3],[-0.35,0.46],[-0.34,0.37],[-0.33,0.5],[-0.32,0.28],[-0.31,0.4],[-0.3,0.33],
[-0.95,0.15],[-0.88,0.18],[-0.8,0.12],[-0.74,0.2],[-0.66,0.28],[-0.6,0.22],[-0.55,0.3],[-0.5,0.18],[-0.46,0.26],[-0.62,0.36],[-0.52,0.33],[-0.42,0.24],[-0.57,0.05],
[-0.29,0.25],[-0.28,0.16],[-0.27,0.3],[-0.26,0.2],[-0.25,0.11],[-0.24,0.22],[-0.23,0.14],[-0.22,0.06],[-0.21,0.18],[-0.2,0.1],[-0.18,0.15],[-0.16,0.06],[-0.14,0.12],[-0.12,0.2],[-0.1,0.08],[-0.08,0.14],[-0.06,0.1],[-0.04,0.17],[-0.02,0.05],[0.0,0.12],[0.02,0.2],[0.04,0.15],
[-0.18,0.45],[-0.15,0.3],[-0.12,0.38],[-0.09,0.55],[-0.05,0.27],[-0.02,0.42],[0.01,0.32],[0.04,0.62],[0.06,0.45],[0.08,0.56],[0.03,0.76],[-0.07,0.7],
[0.09,0.8],[0.1,0.9],[0.11,0.72],[0.12,0.86],[0.13,0.95],[0.14,0.78],[0.15,0.88],[0.16,0.93],[0.17,0.83],[0.18,0.97],[0.19,0.87],[0.2,0.79],[0.21,0.92],[0.22,0.85],[0.23,0.95],[0.24,0.81],[0.25,0.9],[0.26,0.86],[0.27,0.96],[0.28,0.83],[0.29,0.91],[0.3,0.76],[0.31,0.88],[0.32,0.94],[0.33,0.84],[0.34,0.9],[0.35,0.79],[0.36,0.95],[0.37,0.87],[0.38,0.82],[0.39,0.92],[0.4,0.86],[0.41,0.97],[0.42,0.8],[0.43,0.9],[0.44,0.85],[0.45,0.93],[0.46,0.77],[0.47,0.88],[0.48,0.94],[0.49,0.83],[0.5,0.9],[0.51,0.74],[0.52,0.87],[0.53,0.95],[0.54,0.8],[0.55,0.91],[0.56,0.85],[0.57,0.7],[0.58,0.89],[0.59,0.78],
[0.33,0.66],[0.36,0.52],[0.39,0.6],[0.41,0.44],[0.43,0.68],[0.45,0.35],[0.47,0.57],[0.49,0.27],[0.51,0.48],[0.53,0.63],[0.55,0.38],[0.57,0.22],[0.59,0.55],[0.52,0.2],[0.46,0.15],[0.38,0.3]];

// ---------------------------------------------------------------
// Page layout: two blocks (ICRH left, LH right) of 3 x 2 panels
// ---------------------------------------------------------------
const FONT = 'Liberation Sans, Arial, sans-serif';
const INK = '#262626';

const blocks = [
  {
    heating: 'ICRH', colX: [238, 896], width: 609, rowY: [115, 461, 806], height: 299,
    color: '#0000ff', symbol: 'circle', symbolSize: [27, 24], medWidth: 1.5,
    titleTop: 37, labelX: 1567, labelY: [255, 608, 957], ebb: [92, 602], tickMargin: 31, rhoY: 1124,
    clouds: [[icrhLoQ34Cloud, icrhHiQ34Cloud], [icrhLoQ45Cloud, icrhHiQ45Cloud], [icrhLoQ56Cloud, icrhHiQ56Cloud]],
    medians: [[icrhLoQ34Med, icrhHiQ34Med], [icrhLoQ45Med, icrhHiQ45Med], [icrhLoQ56Med, icrhHiQ56Med]],
    q1: [icrhLoQ1, icrhHiQ1], q1Top: [icrhLoQ1Top, icrhHiQ1Top]
  },
  {
    heating: 'LH', colX: [1756, 2392], width: 589, rowY: [132, 466, 801], height: 291,
    color: '#ff0000', symbol: 'triangle', symbolSize: [32, 26], medWidth: 1.2,
    titleTop: 57, labelX: 3043, labelY: [259, 602, 945], ebb: [1629, 600], tickMargin: 34, rhoY: 1113,
    clouds: [[lhLoQ34Cloud, lhHiQ34Cloud], [lhLoQ45Cloud, lhHiQ45Cloud], [lhLoQ56Cloud, lhHiQ56Cloud]],
    medians: [[lhLoQ34Med, lhHiQ34Med], [lhLoQ45Med, lhHiQ45Med], [lhLoQ56Med, lhHiQ56Med]],
    q1: [lhLoQ1, lhHiQ1], q1Top: [lhLoQ1Top, lhHiQ1Top]
  }
];
const ohmicRows = [ohmicQ34, ohmicQ45, ohmicQ56];

const grids = [], xAxes = [], yAxes = [], series = [];

function xLabel(v) {
  const k = xTicks.findIndex(t => Math.abs(t - v) < 1e-6);
  return k < 0 ? '' : xTickLabels[k];
}

blocks.forEach(b => {
  for (let r = 0; r < 3; r++) {
    for (let c = 0; c < 2; c++) {
      const g = grids.length;
      grids.push({
        left: b.colX[c], top: b.rowY[r], width: b.width, height: b.height,
        containLabel: false, outerBoundsMode: 'none',
        show: true, backgroundColor: '#ffffff', borderColor: INK, borderWidth: 4
      });
      xAxes.push({
        type: 'value', gridIndex: g, position: 'bottom', min: -1, max: 0.6, interval: 0.5,
        axisLine: { show: false, onZero: false }, splitLine: { show: false },
        axisTick: { show: true, inside: true, length: 7, customValues: xTicks, lineStyle: { color: INK, width: 2 } },
        axisLabel: {
          show: r === 2, customValues: xTicks, formatter: xLabel, margin: b.tickMargin,
          fontSize: 42, color: INK, fontFamily: FONT
        }
      });
      yAxes.push({
        type: 'value', gridIndex: g, position: 'left', min: 0, max: 1, interval: 0.5,
        axisLine: { show: false, onZero: false }, splitLine: { show: false },
        axisTick: { show: true, inside: true, length: 7, lineStyle: { color: INK, width: 2 } },
        axisLabel: { show: c === 0, margin: 28, fontSize: 42, color: INK, fontFamily: FONT }
      });

      // individual shots
      series.push({
        type: 'scatter', name: b.heating, xAxisIndex: g, yAxisIndex: g,
        data: b.clouds[r][c], symbol: 'circle', symbolSize: 8,
        itemStyle: { color: '#00ffff' }, z: 2, silent: true
      });

      // q = 1 surfaces
      b.q1[c][r].forEach((q, k) => {
        series.push({
          type: 'line', name: 'q=1 ' + b.heating, xAxisIndex: g, yAxisIndex: g,
          data: [[q, 0], [q, b.q1Top[c][r][k]]], symbol: 'none', showSymbol: false,
          lineStyle: { color: b.color, width: 4.5, type: [30, 12] }, z: 3, silent: true
        });
      });

      // binned median
      series.push({
        type: 'line', name: b.heating + ' median', xAxisIndex: g, yAxisIndex: g,
        data: rhoBins.map((x, i) => [x, b.medians[r][c][i]]),
        symbol: b.symbol, symbolSize: b.symbolSize, connectNulls: false,
        itemStyle: { color: b.color }, lineStyle: { color: b.color, width: b.medWidth }, z: 4, silent: true
      });

      // Ohmic reference
      series.push({
        type: 'line', name: 'Ohmic', xAxisIndex: g, yAxisIndex: g,
        data: rhoBins.map((x, i) => [x, ohmicRows[r][i]]),
        symbol: 'circle', symbolSize: [27, 23],
        itemStyle: { color: 'rgba(0,0,0,0)', borderColor: '#000', borderWidth: 4 },
        lineStyle: { color: '#000', width: 4, type: [14, 9] }, z: 5, silent: true
      });
    }
  }
});

// ---------------------------------------------------------------
// Frame, headings, side labels and legends
// ---------------------------------------------------------------
const graphic = [];
graphic.push({ type: 'rect', shape: { x: 62, y: 27, width: 3033, height: 1150 }, style: { fill: '#ffffff' }, z: -10, silent: true });
graphic.push({ type: 'rect', shape: { x: 18, y: 0, width: 3, height: 1177 }, style: { fill: '#1e1e1e' }, z: -5, silent: true });
graphic.push({ type: 'rect', shape: { x: 758, y: -20, width: 407, height: 25 }, style: { fill: 'none', stroke: '#0000c8', lineWidth: 5 }, z: -5, silent: true });
graphic.push({ type: 'rect', shape: { x: 2293, y: -20, width: 320, height: 34 }, style: { fill: 'none', stroke: '#ee0000', lineWidth: 5 }, z: -5, silent: true });

const titleRich = {
  m: { fontSize: 46, fontWeight: 'bold', fontFamily: FONT, fill: '#111', lineHeight: 46, verticalAlign: 'top' },
  s: { fontSize: 38, fontWeight: 'bold', fontFamily: FONT, fill: '#111', lineHeight: 38, padding: [28, 0, 0, 0], verticalAlign: 'top' }
};
const qRich = {
  m: { fontSize: 46, fontWeight: 'bold', fontFamily: FONT, fill: '#111', lineHeight: 46, verticalAlign: 'top' },
  s: { fontSize: 20, fontFamily: FONT, fill: '#111', lineHeight: 20, padding: [30, 0, 0, 0], verticalAlign: 'top' }
};
const ebbRich = {
  m: { fontSize: 46, fontFamily: FONT, fill: INK, lineHeight: 46, verticalAlign: 'top' },
  s: { fontSize: 34, fontFamily: FONT, fill: INK, lineHeight: 34, padding: [22, 0, 0, 0], verticalAlign: 'top' }
};

blocks.forEach(b => {
  powerBands.forEach((pb, c) => {
    graphic.push({
      type: 'text', x: b.colX[c] + b.width / 2, y: b.titleTop, silent: true,
      style: { text: '{m|' + pb[0] + ' < P}{s|' + b.heating + '}{m| < ' + pb[1] + ' (MW)}', rich: titleRich, align: 'center', verticalAlign: 'top' }
    });
    // radial coordinate symbol under the bottom axis, midway along it
    graphic.push({
      type: 'text', x: b.colX[c] + b.width * 0.48, y: b.rhoY, silent: true,
      style: { text: 'ρ', fontSize: 44, fontStyle: 'italic', fontFamily: 'Liberation Serif, serif', fill: INK, align: 'center', verticalAlign: 'top' }
    });
  });
  qBands.forEach((qb, r) => {
    graphic.push({
      type: 'text', x: b.labelX, y: b.labelY[r], rotation: -Math.PI / 2, silent: true,
      style: { text: '{m|' + qb[0] + ' < q}{s|ψ}{m| < ' + qb[1] + '}', rich: qRich, align: 'center', verticalAlign: 'middle' }
    });
  });
  graphic.push({
    type: 'text', x: b.ebb[0], y: b.ebb[1], rotation: Math.PI / 2, silent: true,
    style: { text: '{m|E}{s|BB}', rich: ebbRich, align: 'center', verticalAlign: 'middle' }
  });
});

// legend boxes
function legend(box, cy, color, marker, heating, pos) {
  const Z = 100;
  const txt = (x, t) => ({ type: 'text', x: x, y: cy, z: Z, silent: true,
    style: { text: t, fontSize: 42, fontFamily: FONT, fill: '#1a1a1a', align: 'left', verticalAlign: 'middle' } });
  graphic.push({ type: 'rect', z: Z, silent: true, shape: box, style: { fill: '#ffffff', stroke: INK, lineWidth: 4 } });
  graphic.push({ type: 'circle', z: Z, silent: true, shape: { cx: pos.dot, cy: cy, r: 3 }, style: { fill: '#00ffff' } });
  graphic.push(txt(pos.t1, heating));
  graphic.push({ type: 'line', z: Z, silent: true, shape: { x1: pos.med[0], y1: cy, x2: pos.med[1], y2: cy }, style: { stroke: color, lineWidth: 1.5 } });
  const mx = (pos.med[0] + pos.med[1]) / 2;
  if (marker === 'circle') {
    graphic.push({ type: 'circle', z: Z, silent: true, shape: { cx: mx, cy: cy, r: 13 }, style: { fill: color } });
  } else {
    graphic.push({ type: 'polygon', z: Z, silent: true, shape: { points: [[mx, cy - 15], [mx + 16, cy + 11], [mx - 16, cy + 11]] }, style: { fill: color } });
  }
  graphic.push(txt(pos.t2, heating + ' median'));
  graphic.push({ type: 'line', z: Z, silent: true, shape: { x1: pos.dash[0], y1: cy, x2: pos.dash[1], y2: cy }, style: { stroke: color, lineWidth: 5, lineDash: [15, 23] } });
  graphic.push(txt(pos.t3, 'q=1 ' + heating));
  graphic.push({ type: 'line', z: Z, silent: true, shape: { x1: pos.ohm[0], y1: cy, x2: pos.ohm[1], y2: cy }, style: { stroke: '#000', lineWidth: 4 } });
  graphic.push({ type: 'circle', z: Z, silent: true, shape: { cx: (pos.ohm[0] + pos.ohm[1]) / 2, cy: cy, r: 11 }, style: { fill: '#ffffff', stroke: '#000', lineWidth: 4 } });
  graphic.push(txt(pos.t4, 'Ohmic'));
}
legend({ x: 316, y: 747, width: 1089, height: 70 }, 782, '#0000ff', 'circle', 'ICRH',
  { dot: 362, t1: 408, med: [528, 596], t2: 612, dash: [892, 950], t3: 972, ohm: [1183, 1241], t4: 1260 });
legend({ x: 1932, y: 743, width: 903, height: 67 }, 778, '#ff0000', 'triangle', 'LH',
  { dot: 1978, t1: 2020, med: [2091, 2152], t2: 2170, dash: [2391, 2447], t3: 2468, ohm: [2622, 2678], t4: 2698 });

const chart = echarts.init(document.getElementById('chart'), null, { renderer: 'canvas' });
chart.setOption({
  backgroundColor: '#63c79b',
  animation: false,
  grid: grids,
  xAxis: xAxes,
  yAxis: yAxes,
  series: series,
  graphic: graphic
});
</script>
</body>
</html>
